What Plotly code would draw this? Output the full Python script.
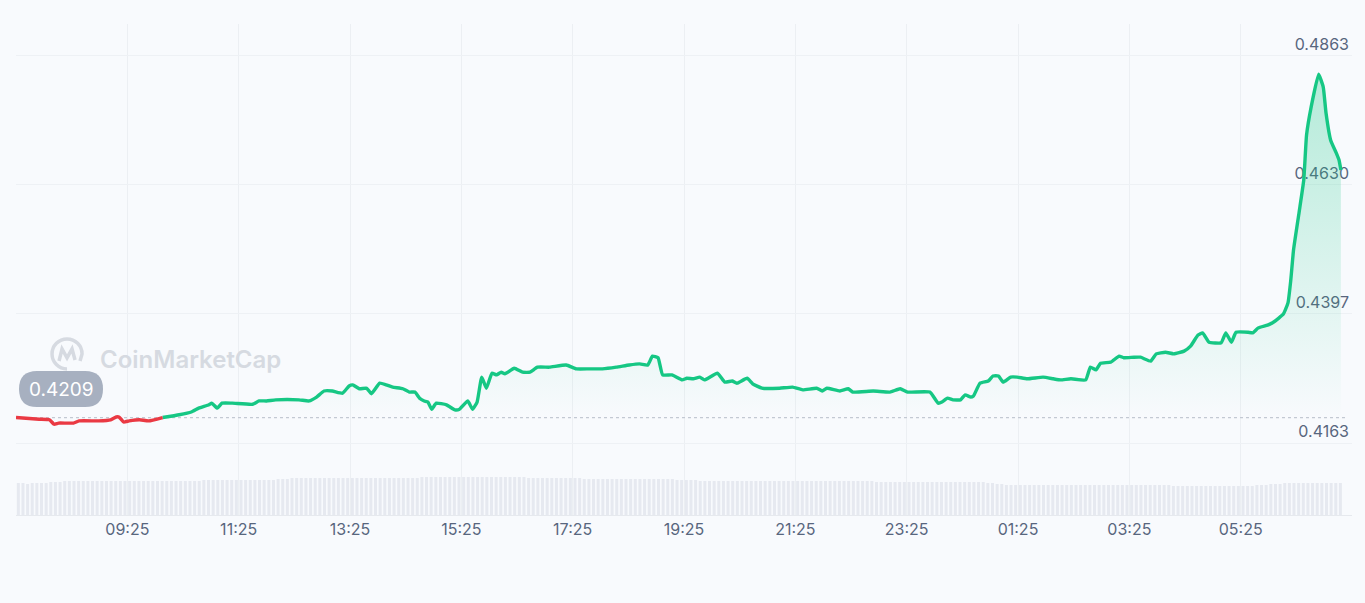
import plotly.graph_objects as go
import pandas as pd

DAY1 = "2023-07-13"
DAY2 = "2023-07-14"
OPEN_PRICE = 0.4209

RED_TIME = ["07:25", "07:50", "08:01", "08:06", "08:11", "08:27", "08:33", "08:54",
            "09:07", "09:13", "09:16", "09:21", "09:27", "09:38", "09:48", "10:03"]
RED_PRICE = [0.4209, 0.4206, 0.4205, 0.4197, 0.4199, 0.4199, 0.4203, 0.4203,
             0.4205, 0.4210, 0.4210, 0.4201, 0.4203, 0.4205, 0.4203, 0.4209]

GREEN_TIME = [
    "10:03", "10:21", "10:34", "10:42", "10:53", "10:56", "11:02", "11:07", "11:18", "11:40",
    "11:47", "11:55", "12:05", "12:30", "12:41", "12:49", "12:57", "13:06", "13:17", "13:24",
    "13:28", "13:35", "13:43", "13:48", "13:57", "14:04", "14:11", "14:22", "14:29", "14:35",
    "14:40", "14:45", "14:49", "14:53", "14:58", "15:09", "15:18", "15:23", "15:32", "15:37",
    "15:42", "15:47", "15:52", "15:58", "16:03", "16:08", "16:12", "16:22", "16:31", "16:39",
    "16:47", "17:00", "17:18", "17:29", "17:43", "17:57", "18:12", "18:26", "18:37", "18:46",
    "18:51", "18:57", "19:02", "19:12", "19:23", "19:28", "19:35", "19:42", "19:47", "20:01",
    "20:09", "20:17", "20:22", "20:33", "20:39", "20:49", "21:08", "21:22", "21:33", "21:48",
    "21:54", "21:59", "22:13", "22:22", "22:27", "22:49", "23:07", "23:18", "23:26", "23:50",
    "23:59", "00:03", "00:09", "00:15", "00:23", "00:28", "00:34", "00:37", "00:44", "00:53",
    "00:58", "01:04", "01:09", "01:17", "01:24", "01:35", "01:52", "02:03", "02:11", "02:22",
    "02:38", "02:43", "02:49", "02:54", "03:05", "03:14", "03:19", "03:30", "03:37", "03:48",
    "03:54", "04:04", "04:13", "04:24", "04:31", "04:39", "04:44", "04:51", "05:04", "05:09",
    "05:15", "05:20", "05:33", "05:38", "05:44", "05:54", "06:01", "06:11", "06:16", "06:19",
    "06:22", "06:28", "06:33", "06:36", "06:41", "06:49", "06:54", "06:57", "07:02", "07:08",
    "07:11", "07:13",
]
GREEN_PRICE = [
    0.4209, 0.4214, 0.4219, 0.4226, 0.4232, 0.4235, 0.4226, 0.4235, 0.4235, 0.4233,
    0.4239, 0.4239, 0.4241, 0.4241, 0.4239, 0.4246, 0.4257, 0.4257, 0.4253, 0.4266,
    0.4268, 0.4261, 0.4262, 0.4252, 0.4271, 0.4268, 0.4264, 0.4261, 0.4255, 0.4255,
    0.4244, 0.4239, 0.4237, 0.4224, 0.4235, 0.4232, 0.4223, 0.4224, 0.4239, 0.4224,
    0.4237, 0.4282, 0.4262, 0.4289, 0.4286, 0.4291, 0.4288, 0.4298, 0.4291, 0.4291,
    0.4300, 0.4300, 0.4304, 0.4297, 0.4297, 0.4297, 0.4300, 0.4304, 0.4306, 0.4304,
    0.4320, 0.4317, 0.4286, 0.4286, 0.4277, 0.4280, 0.4279, 0.4282, 0.4277, 0.4289,
    0.4273, 0.4275, 0.4271, 0.4280, 0.4270, 0.4262, 0.4262, 0.4264, 0.4259, 0.4262,
    0.4257, 0.4262, 0.4257, 0.4261, 0.4255, 0.4257, 0.4255, 0.4261, 0.4255, 0.4255,
    0.4235, 0.4237, 0.4244, 0.4241, 0.4241, 0.4250, 0.4246, 0.4248, 0.4271, 0.4275,
    0.4284, 0.4284, 0.4273, 0.4282, 0.4282, 0.4279, 0.4282, 0.4279, 0.4277, 0.4279,
    0.4277, 0.4300, 0.4295, 0.4307, 0.4309, 0.4320, 0.4317, 0.4318, 0.4318, 0.4311,
    0.4324, 0.4327, 0.4324, 0.4329, 0.4338, 0.4358, 0.4362, 0.4345, 0.4344, 0.4362,
    0.4345, 0.4363, 0.4363, 0.4362, 0.4371, 0.4376, 0.4382, 0.4396, 0.4416, 0.4457,
    0.4512, 0.4580, 0.4638, 0.4719, 0.4770, 0.4829, 0.4806, 0.4759, 0.4710, 0.4687,
    0.4674, 0.4656,
]

# 5-minute volume bars (arbitrary units), one row per hour starting 07:25
VOLUME = [
    3.2, 3.2, 3.1, 3.2, 3.2, 3.2, 3.2, 3.3, 3.3, 3.3, 3.4, 3.4,
    3.4, 3.4, 3.4, 3.4, 3.4, 3.4, 3.4, 3.4, 3.4, 3.4, 3.4, 3.4,
    3.4, 3.4, 3.4, 3.4, 3.4, 3.4, 3.4, 3.4, 3.4, 3.4, 3.4, 3.4,
    3.4, 3.4, 3.4, 3.4, 3.5, 3.5, 3.5, 3.5, 3.5, 3.5, 3.5, 3.5,
    3.5, 3.5, 3.5, 3.5, 3.5, 3.5, 3.5, 3.5, 3.6, 3.6, 3.6, 3.7,
    3.7, 3.7, 3.7, 3.7, 3.7, 3.7, 3.7, 3.7, 3.7, 3.7, 3.7, 3.7,
    3.7, 3.7, 3.7, 3.7, 3.7, 3.7, 3.7, 3.7, 3.7, 3.7, 3.7, 3.7,
    3.7, 3.7, 3.7, 3.8, 3.8, 3.8, 3.8, 3.8, 3.8, 3.8, 3.8, 3.8,
    3.8, 3.8, 3.8, 3.8, 3.8, 3.8, 3.8, 3.8, 3.8, 3.8, 3.8, 3.8,
    3.8, 3.8, 3.7, 3.7, 3.7, 3.7, 3.7, 3.7, 3.7, 3.7, 3.7, 3.7,
    3.7, 3.7, 3.6, 3.6, 3.6, 3.6, 3.6, 3.6, 3.6, 3.6, 3.6, 3.6,
    3.6, 3.6, 3.6, 3.6, 3.6, 3.6, 3.6, 3.6, 3.6, 3.6, 3.5, 3.5,
    3.5, 3.5, 3.5, 3.4, 3.4, 3.4, 3.4, 3.4, 3.4, 3.4, 3.4, 3.4,
    3.4, 3.4, 3.4, 3.4, 3.4, 3.4, 3.4, 3.4, 3.4, 3.4, 3.4, 3.4,
    3.4, 3.4, 3.4, 3.4, 3.4, 3.4, 3.4, 3.4, 3.4, 3.4, 3.4, 3.4,
    3.4, 3.4, 3.4, 3.4, 3.4, 3.3, 3.3, 3.3, 3.3, 3.3, 3.3, 3.3,
    3.3, 3.3, 3.3, 3.3, 3.3, 3.3, 3.3, 3.3, 3.3, 3.3, 3.3, 3.3,
    3.3, 3.3, 3.3, 3.3, 3.3, 3.2, 3.2, 3.1, 3.1, 3.0, 3.0, 3.0,
    3.0, 3.0, 3.0, 3.0, 3.0, 3.0, 3.0, 3.0, 3.0, 3.0, 3.0, 3.0,
    3.0, 3.0, 3.0, 3.0, 3.0, 3.0, 3.0, 3.0, 3.0, 3.0, 3.0, 3.0,
    3.0, 3.0, 3.0, 3.0, 3.0, 3.0, 3.0, 3.0, 3.0, 2.9, 2.9, 2.9,
    2.9, 2.9, 2.9, 2.9, 2.9, 2.9, 2.9, 2.9, 2.9, 2.9, 2.9, 2.9,
    2.9, 2.9, 2.9, 3.0, 3.0, 3.0, 3.1, 3.1, 3.1, 3.2, 3.2, 3.2,
    3.2, 3.2, 3.2, 3.2, 3.2, 3.2, 3.2, 3.2, 3.2, 3.2,
]

X_TICKS = ["09:25", "11:25", "13:25", "15:25", "17:25", "19:25",
           "21:25", "23:25", "01:25", "03:25", "05:25"]
Y_TICKS = [0.4163, 0.4397, 0.4630, 0.4863]


def to_dt(hhmm_list):
    out, day, prev = [], DAY1, None
    for t in hhmm_list:
        if prev is not None and t < prev:
            day = DAY2
        out.append(f"{day} {t}")
        prev = t
    return out


red_x = to_dt(RED_TIME)
green_x = to_dt(["10:00"] + GREEN_TIME)[1:]
tick_x = to_dt(["07:25"] + X_TICKS)[1:]
vol_x = pd.date_range(f"{DAY1} 07:27:30", periods=len(VOLUME), freq="5min")

GREEN = "#16c784"
RED = "#ea3943"
LABEL = "#58667e"
BG = "#f8fafd"

fig = go.Figure()

fig.add_trace(go.Bar(x=vol_x, y=VOLUME, yaxis="y2", marker=dict(color="#e6e9f0", line=dict(width=0)),
                     hoverinfo="skip", showlegend=False))

fig.add_trace(go.Scatter(x=[f"{DAY1} 07:25", f"{DAY2} 07:20"], y=[OPEN_PRICE, OPEN_PRICE],
                         mode="lines", line=dict(color="#c3c9d3", width=1.2, dash="3px,3px"),
                         hoverinfo="skip", showlegend=False))

fig.add_trace(go.Scatter(x=green_x, y=GREEN_PRICE, mode="lines",
                         line=dict(color=GREEN, width=3.4, shape="spline", smoothing=0.4),
                         fill="tozeroy",
                         fillgradient=dict(type="vertical",
                                           colorscale=[[0, "rgba(22,199,132,0)"],
                                                       [1, "rgba(22,199,132,0.3)"]],
                                           start=OPEN_PRICE, stop=max(GREEN_PRICE)),
                         showlegend=False))

fig.add_trace(go.Scatter(x=red_x, y=RED_PRICE, mode="lines",
                         line=dict(color=RED, width=3.4, shape="spline", smoothing=0.4),
                         showlegend=False))

# badge (rounded pill) + text
badge_x, badge_y = 0.0337, 0.2566
fig.add_shape(type="path", xref="paper", yref="paper", xsizemode="pixel", ysizemode="pixel",
              xanchor=badge_x, yanchor=badge_y,
              path="M -24,18 L 24,18 Q 42,18 42,0 Q 42,-18 24,-18 L -24,-18 Q -42,-18 -42,0 Q -42,18 -24,18 Z",
              fillcolor="#a7b0c0", line=dict(width=0), layer="above")
fig.add_annotation(x=badge_x, y=badge_y, xref="paper", yref="paper", text=f"{OPEN_PRICE:.4f}",
                   showarrow=False, xanchor="center", yanchor="middle",
                   font=dict(family="Inter", size=19, color="white"))

# watermark
fig.add_shape(type="path", xref="paper", yref="paper", xsizemode="pixel", ysizemode="pixel",
              xanchor=0.0382, yanchor=0.328,
              path=("M 0,-15 C -8.3,-15 -15,-8.3 -15,0 C -15,8.3 -8.3,15 0,15 "
                    "C 8.3,15 15,8.3 15,0 L 13,-7 "
                    "M -8,-7 L -5,5 L 0,-4 L 5,5 L 8,-6"),
              line=dict(color="#d6dae1", width=3.5), layer="below")
fig.add_annotation(x=0.0614, y=0.3177, xref="paper", yref="paper", text="CoinMarketCap",
                   showarrow=False, xanchor="left", yanchor="middle",
                   font=dict(family="Inter", size=24, color="#d6dae1", weight=600))

fig.update_layout(
    width=1365, height=603,
    margin=dict(l=16, r=13, t=24, b=88),
    paper_bgcolor=BG, plot_bgcolor=BG,
    bargap=0.35,
    showlegend=False,
    xaxis=dict(type="date", range=[f"{DAY1} 07:25", f"{DAY2} 07:25"],
               tickvals=tick_x, ticktext=X_TICKS,
               showgrid=True, gridcolor="#eceff3", gridwidth=1,
               showline=True, linecolor="#e6e9ee", linewidth=1,
               ticks="", zeroline=False,
               tickfont=dict(family="Inter", size=16, color=LABEL)),
    yaxis=dict(range=[0.40330, 0.49198], side="right",
               tickvals=Y_TICKS, ticktext=[f"{v:.4f}" for v in Y_TICKS],
               ticklabelposition="inside top", ticks="",
               showgrid=True, gridcolor="#eef1f5", gridwidth=1, zeroline=False,
               layer="below traces",
               tickfont=dict(family="Inter", size=16, color=LABEL)),
    yaxis2=dict(domain=[0, 0.0855], range=[0, 4.2], anchor="x",
                showgrid=False, showticklabels=False, zeroline=False, ticks=""),
)

fig.write_html(
    "out.html",
    config={"displayModeBar": False},
    post_script=f"document.body.style.margin='0';document.body.style.background='{BG}';"
                "document.body.style.overflow='hidden';",
)
